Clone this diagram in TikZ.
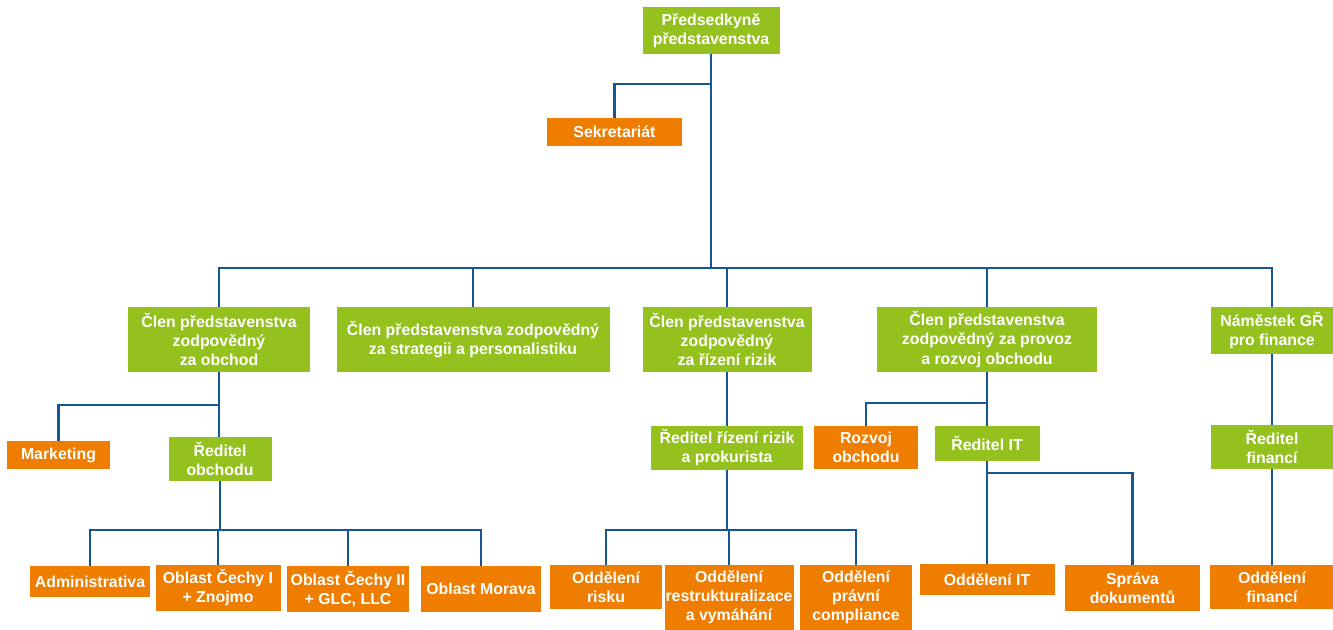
\documentclass[tikz,border=0pt]{standalone}
\usepackage{fontspec}
\setmainfont{Liberation Sans}
\definecolor{grn}{RGB}{149,193,31}
\definecolor{org}{RGB}{238,125,0}
\definecolor{lin}{RGB}{22,86,150}

\begin{document}
\begin{tikzpicture}[x=0.75pt,y=-0.75pt,
  box/.style={inner sep=0pt,align=center,text=white,font=\fontsize{11.9}{14.3}\selectfont\bfseries},
  gbox/.style={box,fill=grn},
  obox/.style={box,fill=org},
  wh/.style 2 args={minimum width=#1*0.75pt,minimum height=#2*0.75pt},
  conn/.style={lin,line width=2pt}]
\useasboundingbox (0,0) rectangle (1333,630);

% top
\node[gbox,wh={137}{47}] (pred) at (711,30.5) {Předsedkyně\\představenstva};
\node[obox,wh={135}{28}] (sekr) at (614.5,132) {Sekretariát};

% board members
\node[gbox,wh={182}{65}] (clenobch) at (219,339.5) {Člen představenstva\\zodpovědný\\za obchod};
\node[gbox,wh={273}{65}] (clenstrat) at (473,339.5) {Člen představenstva zodpovědný\\za strategii a personalistiku};
\node[gbox,wh={169}{65}] (clenriz) at (727,339.5) {Člen představenstva\\zodpovědný\\za řízení rizik};
\node[gbox,wh={220}{65}] (clenprov) at (987,339.5) {Člen představenstva\\zodpovědný za provoz\\a rozvoj obchodu};
\node[gbox,wh={122}{47}] (namest) at (1272,330.5) {Náměstek GŘ\\pro finance};

% second row
\node[obox,wh={103}{28}] (mark) at (58.5,455) {Marketing};
\node[gbox,wh={103}{44}] (redobch) at (220,459) {Ředitel\\obchodu};
\node[gbox,wh={152}{44}] (redriz) at (727,448) {Ředitel řízení rizik\\a prokurista};
\node[obox,wh={104}{43}] (rozvoj) at (866,447.5) {Rozvoj\\obchodu};
\node[gbox,wh={105}{35}] (redit) at (987,443.5) {Ředitel IT};
\node[gbox,wh={122}{44}] (redfin) at (1272,447) {Ředitel\\financí};

% bottom row
\node[obox,wh={120}{31}] (admin) at (90,581.5) {Administrativa};
\node[obox,wh={125}{46}] (cechy1) at (218,588) {Oblast Čechy I\\+ Znojmo};
\node[obox,wh={122}{46}] (cechy2) at (348,589) {Oblast Čechy II\\+ GLC, LLC};
\node[obox,wh={120}{46}] (morava) at (481,589) {Oblast Morava};
\node[obox,wh={112}{44}] (risk) at (606,587) {Oddělení\\risku};
\node[obox,wh={129}{65}] (restr) at (729,597.5) {Oddělení\\restrukturalizace\\a vymáhání};
\node[obox,wh={112}{65}] (compl) at (856,597.5) {Oddělení\\právní\\compliance};
\node[obox,wh={135}{31}] (oddit) at (987,579.5) {Oddělení IT};
\node[obox,wh={135}{46}] (sprava) at (1132.5,588) {Správa\\dokumentů};
\node[obox,wh={124}{44}] (oddfin) at (1272,587) {Oddělení\\financí};

% bus points
\coordinate (top1) at (711,84);
\coordinate (top2) at (711,268);
\coordinate (obch1) at (220,405);
\coordinate (obch2) at (220,530);
\coordinate (riz2) at (727,530);
\coordinate (prov1) at (987,403);
\coordinate (it2) at (987,473);

% connectors
\draw[conn] (pred.south) -- (top2);
\draw[conn] (sekr.north) |- (top1);
\draw[conn] (clenobch.north) |- (top2) -| (namest.north);
\foreach \n in {clenstrat,clenriz,clenprov}
  \draw[conn] (\n.north) -- (\n.north |- top2);

\draw[conn] (clenobch.south) -- (clenobch.south |- redobch.north);
\draw[conn] (mark.north) |- (obch1);
\draw[conn] (redobch.south) -- (obch2);
\draw[conn] (admin.north) |- (obch2) -| (morava.north);
\foreach \n in {cechy1,cechy2}
  \draw[conn] (\n.north) -- (\n.north |- obch2);

\draw[conn] (clenriz.south) -- (redriz.north);
\draw[conn] (redriz.south) -- (riz2);
\draw[conn] (risk.north) |- (riz2) -| (compl.north);
\draw[conn] (restr.north) -- (restr.north |- riz2);

\draw[conn] (clenprov.south) -- (redit.north);
\draw[conn] (rozvoj.north) |- (prov1);
\draw[conn] (redit.south) -- (oddit.north);
\draw[conn] (it2) -| (sprava.north);

\draw[conn] (namest.south) -- (redfin.north);
\draw[conn] (redfin.south) -- (oddfin.north);
\end{tikzpicture}
\end{document}
